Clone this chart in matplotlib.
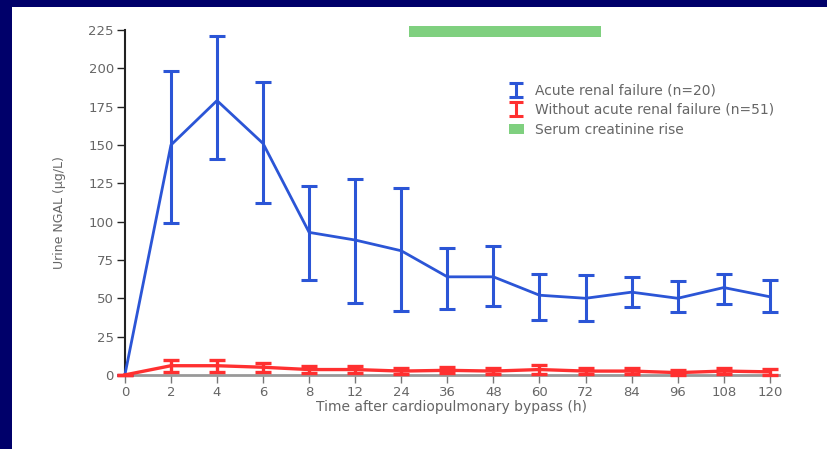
import matplotlib
matplotlib.use('Agg')
import matplotlib.pyplot as plt
import numpy as np
from matplotlib.patches import Patch, Rectangle

# time points (h) - shown as evenly spaced categories
hours = [0, 2, 4, 6, 8, 12, 24, 36, 48, 60, 72, 84, 96, 108, 120]

# acute renal failure (n=20): mean, lower and upper end of error bars
arf_mean = [0, 150, 179, 151, 93, 88, 81, 64, 64, 52, 50, 54, 50, 57, 51]
arf_low = [0, 99, 141, 112, 62, 47, 42, 43, 45, 36, 35, 44, 41, 46, 41]
arf_high = [0, 198, 221, 191, 123, 128, 122, 83, 84, 66, 65, 64, 61, 66, 62]

# without acute renal failure (n=51)
noarf_mean = [0, 6, 6, 5, 3.5, 3.5, 2.5, 3, 2.5, 3.5, 2.5, 2.5, 1.5, 2.5, 2]
noarf_err = [0, 4, 4, 3, 2.5, 2.5, 2, 2, 2, 3, 2, 2, 1.5, 2, 2]

# serum creatinine rise window (h)
creat_start, creat_end = 26, 76

blue = '#2b55d6'
red = '#ff3030'
green = '#7fd07f'
grey = '#666666'

plt.rcParams['font.family'] = 'DejaVu Sans'
fig = plt.figure(figsize=(8.27, 4.49), dpi=100)
fig.patch.set_facecolor('white')
ax = fig.add_axes([0.151, 0.165, 0.791, 0.768])

x = np.arange(len(hours))
arf_mean = np.array(arf_mean)
yerr = [arf_mean - np.array(arf_low), np.array(arf_high) - arf_mean]

ax.errorbar(x, arf_mean, yerr=yerr, color=blue, lw=2, elinewidth=2.2,
            capsize=6, capthick=2.2, clip_on=False, zorder=4)
ax.errorbar(x, noarf_mean, yerr=noarf_err, color=red, lw=2.4, elinewidth=2.4,
            capsize=6, capthick=2.4, clip_on=False, zorder=5)

# creatinine bar drawn above plot
xs = np.interp([creat_start, creat_end], hours, x)
ax.add_patch(Rectangle((xs[0], 220.5), xs[1] - xs[0], 7, facecolor=green,
                       edgecolor='none', clip_on=False))

ax.set_xlim(0, 14.2)
ax.set_ylim(0, 225)
ax.set_xticks(x)
ax.set_xticklabels([str(h) for h in hours])
ax.set_yticks(np.arange(0, 226, 25))

for s in ['top', 'right']:
    ax.spines[s].set_visible(False)
ax.spines['left'].set_color('#222222')
ax.spines['left'].set_linewidth(1.5)
ax.spines['bottom'].set_color('#999999')
ax.spines['bottom'].set_linewidth(2)
ax.tick_params(axis='y', length=6, width=1, color='#222222', labelcolor=grey,
               labelsize=9.5, pad=2)
ax.tick_params(axis='x', length=6, width=1, color='#777777', labelcolor=grey,
               labelsize=9.5, pad=2)

ax.set_xlabel('Time after cardiopulmonary bypass (h)', color=grey, fontsize=10, labelpad=1)
ax.set_ylabel('Urine NGAL (\u00b5g/L)', color=grey, fontsize=9, labelpad=16)
ax.yaxis.set_label_coords(-0.09, 0.47)

# legend proxies
h1 = ax.errorbar([np.nan], [np.nan], yerr=[1], fmt='none', ecolor=blue,
                 elinewidth=2.2, capsize=5, capthick=2.2)
h2 = ax.errorbar([np.nan], [np.nan], yerr=[1], fmt='none', ecolor=red,
                 elinewidth=2.2, capsize=5, capthick=2.2)
h3 = Patch(facecolor=green, edgecolor='none')
leg = fig.legend([h1, h2, h3],
                 ['Acute renal failure (n=20)', 'Without acute renal failure (n=51)',
                  'Serum creatinine rise'],
                 loc='upper left', bbox_to_anchor=(0.6, 0.842), frameon=False,
                 fontsize=10, handlelength=1.1, handletextpad=0.8, labelspacing=0.4)
for t in leg.get_texts():
    t.set_color(grey)

# navy frame on top and left
fig.add_artist(Rectangle((0, 1 - 7 / 449), 1, 7 / 449, transform=fig.transFigure,
                         facecolor='#00006a', edgecolor='none'))
fig.add_artist(Rectangle((0, 0), 12 / 827, 1, transform=fig.transFigure,
                         facecolor='#00006a', edgecolor='none'))

fig.savefig('out.png', dpi=100)
